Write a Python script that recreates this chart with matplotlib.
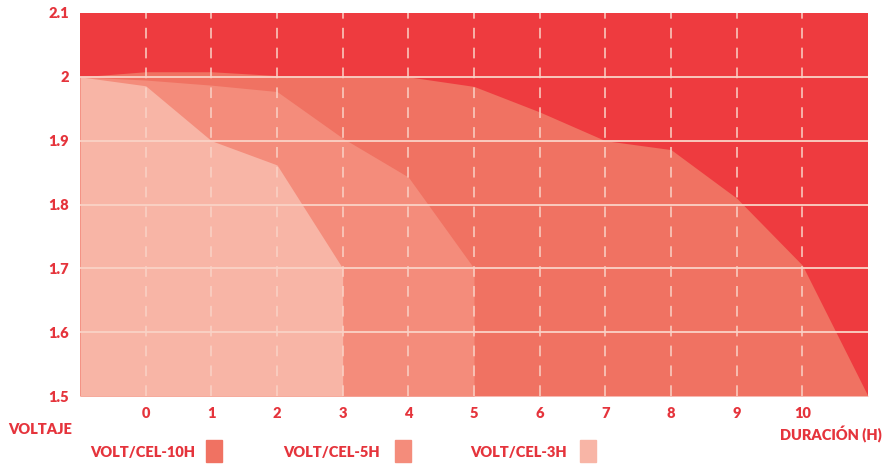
import numpy as np
import matplotlib.pyplot as plt

# discharge curves (hours, volts per cell)
hours_10h = [-1, 0, 1, 2, 3, 4, 5, 6, 7, 8, 9, 10, 11]
volt_10h = [2.0, 2.008, 2.008, 2.002, 2.0, 2.0, 1.985, 1.945, 1.90, 1.886, 1.81, 1.705, 1.5]

hours_5h = [-1, 0, 1, 2, 3, 4, 5]
volt_5h = [2.0, 1.995, 1.987, 1.977, 1.904, 1.843, 1.70]

hours_3h = [-1, 0, 1, 2, 3]
volt_3h = [2.0, 1.986, 1.90, 1.862, 1.70]

x_ticks = list(range(0, 11))
y_ticks = [1.5, 1.6, 1.7, 1.8, 1.9, 2.0, 2.1]
y_tick_labels = ['1.5', '1.6', '1.7', '1.8', '1.9', '2', '2.1']

series = [
    ('VOLT/CEL-10H', hours_10h, volt_10h, '#F07262'),
    ('VOLT/CEL-5H', hours_5h, volt_5h, '#F48C7B'),
    ('VOLT/CEL-3H', hours_3h, volt_3h, '#F8B5A6'),
]

red_text = '#E5343C'
plt.rcParams['font.family'] = ['Lato', 'DejaVu Sans']

fig = plt.figure(figsize=(8.83, 4.68), dpi=100)
ax = fig.add_axes([80 / 883, 72 / 468, 788 / 883, 383 / 468])
ax.set_facecolor('#EE3B3F')

for name, xs, ys, col in series:
    ax.fill_between(xs, 1.5, ys, color=col, linewidth=0, zorder=1)

# grid: solid horizontal, dashed vertical
for y in [1.6, 1.7, 1.8, 1.9, 2.0]:
    ax.axhline(y, color='#FAD2C6', linewidth=1.3, zorder=2)
for x in x_ticks:
    ax.axvline(x, color='#FAD2C6', linewidth=1.1, linestyle=(0, (7, 6)), zorder=2)

ax.set_xlim(-1, 11)
ax.set_ylim(1.5, 2.1)
ax.set_xticks(x_ticks)
ax.set_xticklabels([str(x) for x in x_ticks])
ax.set_yticks(y_ticks)
ax.set_yticklabels(y_tick_labels)
ax.tick_params(length=0, labelsize=10.5, labelcolor=red_text, pad=8)
for lab in ax.get_xticklabels() + ax.get_yticklabels():
    lab.set_fontweight('heavy')
for s in ax.spines.values():
    s.set_visible(False)

fig.text(8 / 883, 1 - 430 / 468, 'VOLTAJE', color=red_text, fontsize=10.5,
         fontweight='heavy', va='center', ha='left')
fig.text(882 / 883, 1 - 434 / 468, 'DURACIÓN (H)', color=red_text, fontsize=10.5,
         fontweight='heavy', va='center', ha='right')

# legend row under the chart
legend_pos = [(90, 206), (283, 395), (470, 580)]
for (name, xs, ys, col), (tx, px) in zip(series, legend_pos):
    fig.text(tx / 883, 1 - 453 / 468, name, color=red_text, fontsize=10.5,
             fontweight='heavy', va='center', ha='left')
    fig.patches.append(plt.Rectangle((px / 883, 1 - 462 / 468), 16 / 883, 22 / 468,
                                     transform=fig.transFigure, color=col))

fig.savefig('out.png', dpi=100)
